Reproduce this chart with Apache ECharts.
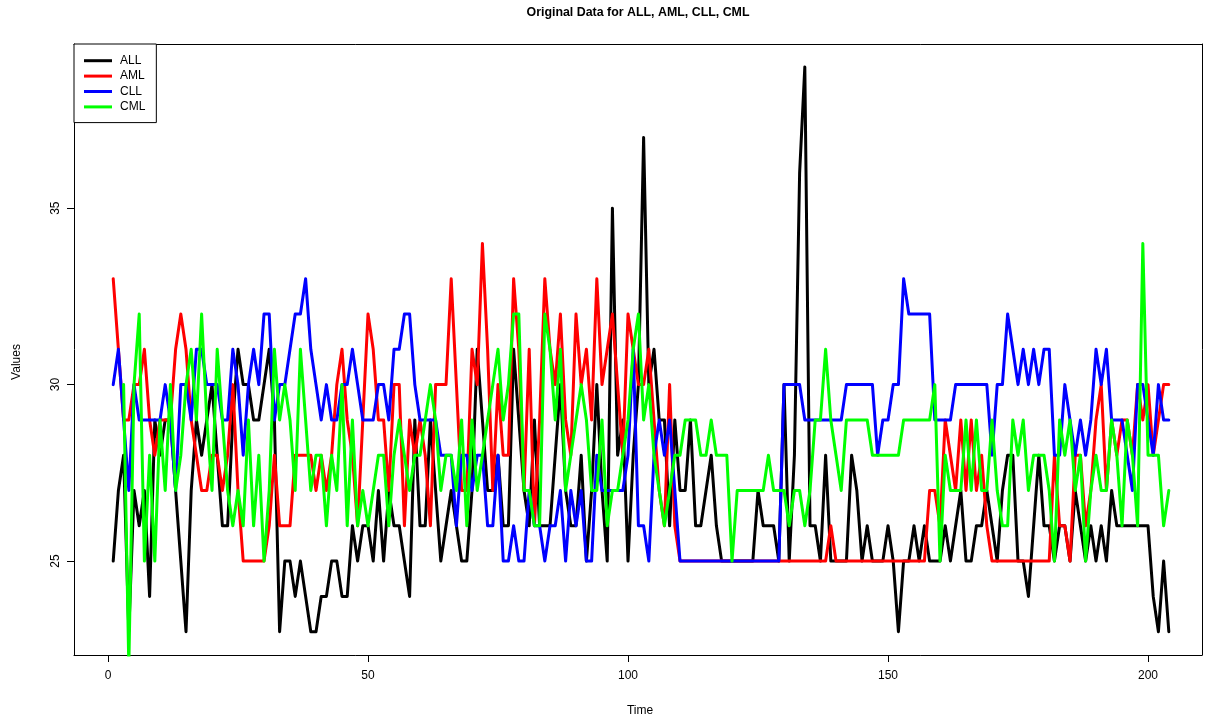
<!DOCTYPE html>
<html>
<head>
<meta charset="utf-8">
<script src="https://cdn.jsdelivr.net/npm/echarts@6/dist/echarts.min.js"></script>
<style>html,body{margin:0;padding:0;background:#fff}#c{width:1205px;height:720px}</style>
</head>
<body>
<div id="c"></div>
<script>
const seriesNames = ['ALL', 'AML', 'CLL', 'CML'];
const seriesColors = ['#000000', '#FF0000', '#0000FF', '#00FF00'];
const xTicks = [0, 50, 100, 150, 200];
const yTicks = [25, 30, 35];

const ALL = [
25,27,28,23,27,26,27,24,29,28,29,29,27,25,23,27,29,
28,29,30,28,26,26,29,31,30,30,29,29,30,31,29,23,25,
25,24,25,24,23,23,24,24,25,25,24,24,26,25,26,26,25,
27,25,27,26,26,25,24,29,26,26,29,27,25,26,27,26,25,
25,27,31,29,27,27,28,26,26,31,29,27,26,29,26,26,26,
28,30,27,26,26,28,25,27,30,27,25,35,28,29,25,28,30,
37,30,31,29,29,26,29,27,27,29,26,26,27,28,26,25,25,
25,25,25,25,25,27,26,26,26,25,30,25,28,36,39,26,26,
25,28,25,25,25,25,28,27,25,26,25,25,25,26,25,23,25,
25,26,25,26,25,25,25,26,25,26,27,25,25,26,26,27,26,
25,27,28,28,25,25,24,26,28,26,26,25,26,26,25,27,26,
25,26,25,26,25,27,26,26,26,26,26,26,26,24,23,25,23
];
const AML = [
33,31,29,29,30,30,31,29,28,29,29,29,31,32,31,29,28,
27,27,28,28,27,28,30,27,25,25,25,25,25,26,28,26,26,
26,28,28,28,28,27,28,27,28,30,31,29,28,26,29,32,31,
29,29,27,30,30,26,29,28,29,28,26,30,30,30,33,30,27,
27,31,30,34,31,27,30,28,28,33,31,27,31,26,29,33,31,
30,32,29,28,32,30,31,29,33,30,31,32,30,28,32,31,30,
30,31,29,27,26,30,26,25,25,25,25,25,25,25,25,25,25,
25,25,25,25,25,25,25,25,25,25,25,25,25,25,25,25,25,
25,25,26,25,25,25,25,25,25,25,25,25,25,25,25,25,25,
25,25,25,25,27,27,26,29,28,27,29,27,29,27,28,26,25,
25,25,25,25,25,25,25,25,25,25,25,28,26,26,25,28,28,
26,27,29,30,27,29,28,29,29,28,30,29,30,28,29,30,30
];
const CLL = [
30,31,29,27,30,29,29,29,29,29,30,29,27,30,30,29,31,
31,30,30,30,29,29,31,30,28,30,31,30,32,32,29,30,30,
31,32,32,33,31,30,29,30,29,29,30,30,31,30,29,29,29,
30,30,29,31,31,32,32,30,29,29,29,29,28,28,28,26,28,
28,27,28,28,26,26,28,25,25,26,25,25,27,26,26,25,26,
26,27,25,27,26,27,25,25,28,27,27,27,27,27,28,31,26,
26,25,28,29,28,29,27,25,25,25,25,25,25,25,25,25,25,
25,25,25,25,25,25,25,25,25,25,30,30,30,30,29,29,29,
29,29,29,29,29,30,30,30,30,30,30,28,29,29,30,30,33,
32,32,32,32,32,29,29,29,29,30,30,30,30,30,30,30,28,
30,30,32,31,30,31,30,31,30,31,31,28,28,30,29,28,29,
28,29,31,30,31,29,29,29,28,27,30,30,29,28,30,29,29
];
const CML = [
null,null,30,22,30,32,25,28,25,29,27,30,27,28,30,31,29,
32,29,27,31,29,27,26,27,26,29,26,28,25,27,31,29,30,
29,27,31,29,27,28,28,26,28,27,30,26,29,26,27,26,27,
28,28,26,28,29,28,27,28,28,29,30,29,27,28,28,27,29,
26,29,27,28,29,30,31,29,30,32,32,27,27,26,26,32,31,
29,31,27,28,29,30,29,27,27,29,26,27,27,28,29,31,32,
29,30,28,27,26,27,28,28,29,29,29,28,28,29,28,28,28,
25,27,27,27,27,27,27,28,27,27,27,26,27,27,26,27,29,
29,31,29,28,27,29,29,29,29,29,28,28,28,28,28,28,29,
29,29,29,29,29,30,25,28,27,27,27,29,27,29,27,27,29,
27,26,26,29,28,29,27,28,28,28,27,25,29,28,29,27,28,
25,27,28,27,27,29,28,26,29,28,26,34,28,28,28,26,27
];
const allData = [ALL, AML, CLL, CML];

const chart = echarts.init(document.getElementById('c'), null, {renderer: 'canvas'});
const font = 'Liberation Sans, Arial, sans-serif';

const series = allData.map((arr, k) => ({
  name: seriesNames[k],
  type: 'line',
  showSymbol: false,
  symbol: 'none',
  clip: true,
  connectNulls: false,
  color: seriesColors[k],
  lineStyle: {width: 3, color: seriesColors[k], join: 'round', cap: 'round'},
  data: arr.map((v, i) => [i + 1, v]),
  animation: false,
  z: 2 + k
}));

const xRange = {min: -6.54, max: 210.38};
const yRange = {min: 22.34, max: 39.65};
const boxLine = {show: true, onZero: false, lineStyle: {color: '#000', width: 1}};

chart.setOption({
  animation: false,
  backgroundColor: '#ffffff',
  grid: {left: 74, right: 3, top: 44, bottom: 65, show: false},
  xAxis: [{
    type: 'value', position: 'bottom', min: xRange.min, max: xRange.max,
    axisLine: boxLine,
    splitLine: {show: false},
    axisTick: {show: true, inside: false, length: 7, lineStyle: {color: '#000', width: 1}, customValues: xTicks},
    axisLabel: {show: true, customValues: xTicks, margin: 15, color: '#000', fontSize: 12, fontFamily: font}
  }, {
    type: 'value', position: 'top', min: xRange.min, max: xRange.max,
    axisLine: boxLine, splitLine: {show: false}, axisTick: {show: false}, axisLabel: {show: false}
  }],
  yAxis: [{
    type: 'value', position: 'left', min: yRange.min, max: yRange.max,
    axisLine: boxLine,
    splitLine: {show: false},
    axisTick: {show: true, inside: false, length: 7, lineStyle: {color: '#000', width: 1}, customValues: yTicks},
    axisLabel: {show: true, customValues: yTicks, rotate: 90, margin: 12, color: '#000', fontSize: 12, fontFamily: font}
  }, {
    type: 'value', position: 'right', min: yRange.min, max: yRange.max,
    axisLine: boxLine, splitLine: {show: false}, axisTick: {show: false}, axisLabel: {show: false}
  }],
  legend: {
    data: seriesNames,
    left: 74, top: 44,
    orient: 'vertical',
    icon: 'rect',
    itemWidth: 28, itemHeight: 3,
    itemGap: 2,
    padding: [10, 11, 9, 10],
    borderColor: '#000', borderWidth: 1, borderRadius: 0,
    backgroundColor: '#fff',
    textStyle: {fontSize: 12, fontFamily: font, color: '#000', lineHeight: 13.4, padding: [0, 0, 0, 3]},
    selectedMode: false
  },
  graphic: [
    {type: 'text', x: 638, y: 13, style: {text: 'Original Data for ALL, AML, CLL, CML', fill: '#000', font: 'bold 12.4px ' + font, textAlign: 'center', textVerticalAlign: 'middle'}},
    {type: 'text', x: 640, y: 711, style: {text: 'Time', fill: '#000', font: '12px ' + font, textAlign: 'center', textVerticalAlign: 'middle'}},
    {type: 'text', x: 17, y: 362, rotation: Math.PI / 2, style: {text: 'Values', fill: '#000', font: '12px ' + font, textAlign: 'center', textVerticalAlign: 'middle'}}
  ],
  series: series
});
</script>
</body>
</html>
